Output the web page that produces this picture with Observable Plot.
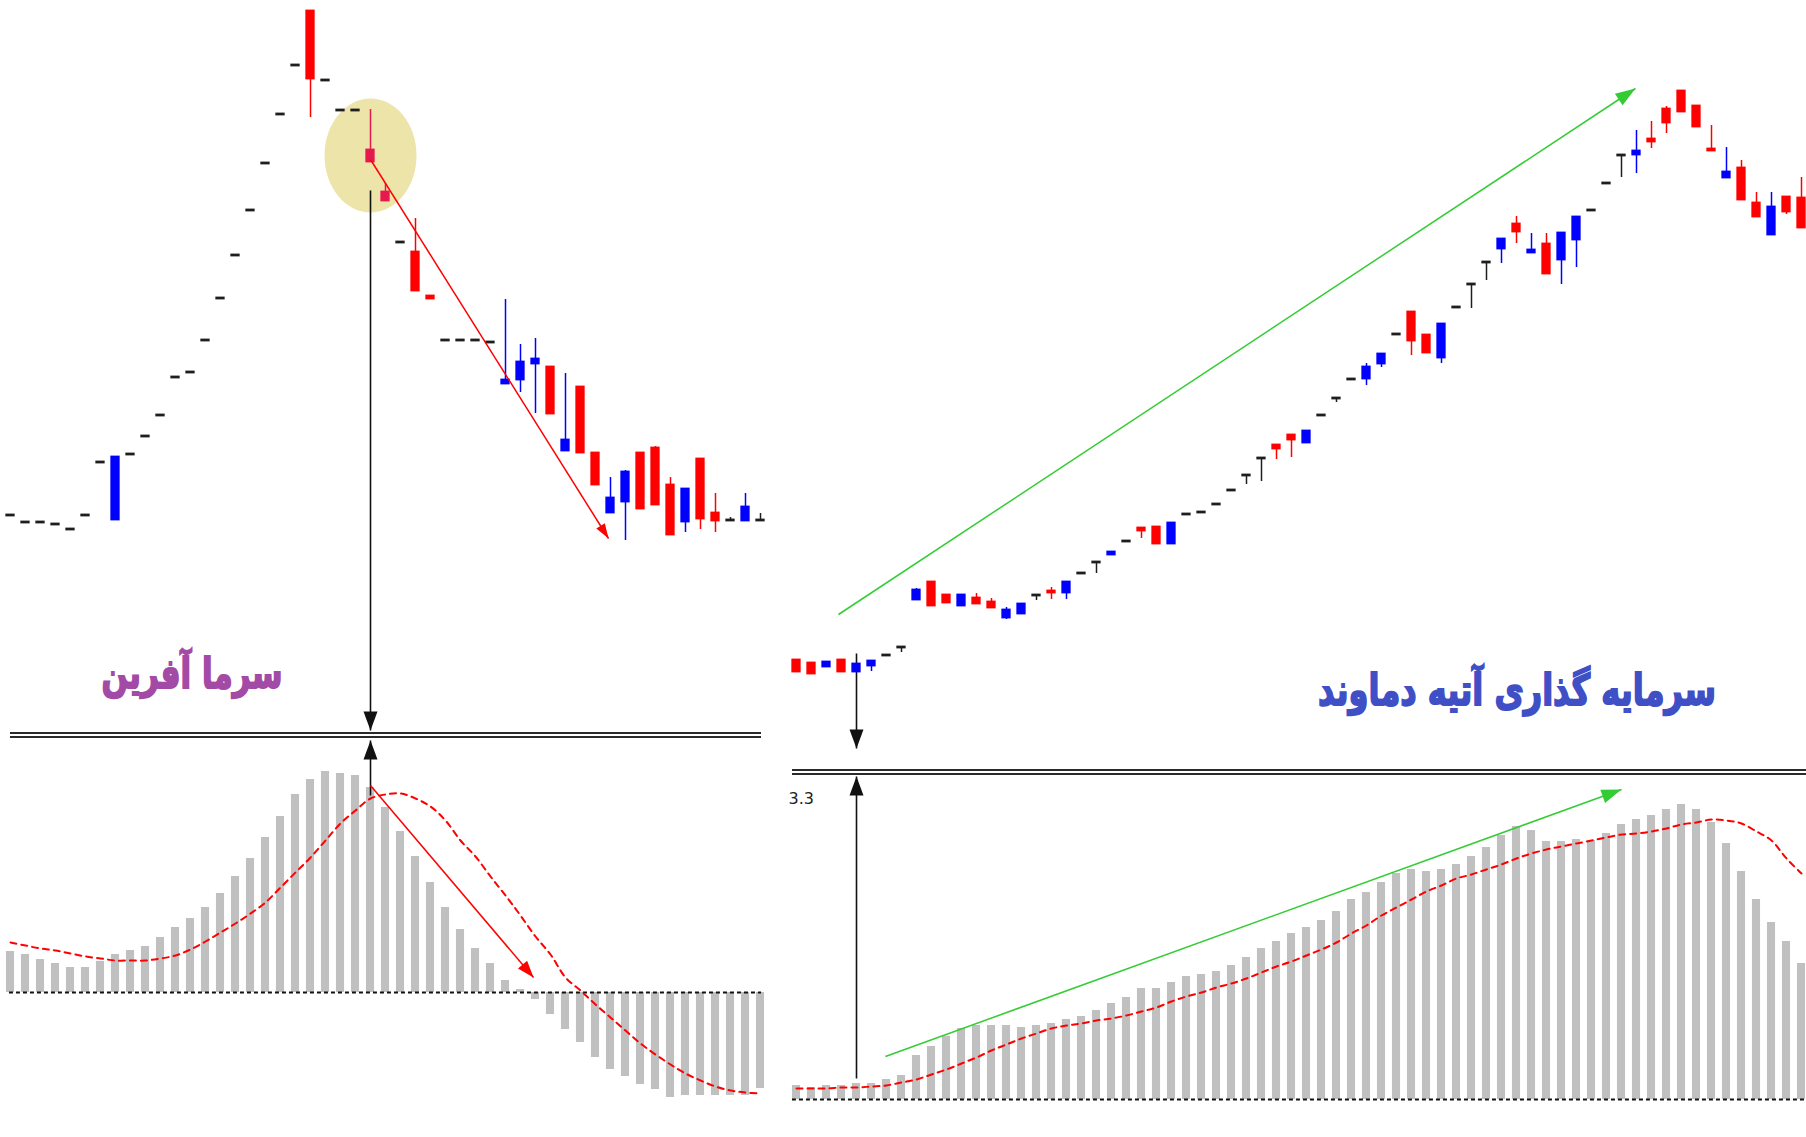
<!DOCTYPE html>
<html><head><meta charset="utf-8">
<script src="https://cdn.jsdelivr.net/npm/d3@7"></script>
<script src="https://cdn.jsdelivr.net/npm/@observablehq/plot@0.6"></script>
<style>
body{margin:0;background:#fff;}
#root{position:relative;width:1806px;height:1137px;overflow:hidden;background:#fff;font-family:"DejaVu Sans",sans-serif;}
.panel{position:absolute;}
.dbl{position:absolute;height:2px;border-top:2px solid #2a2a2a;border-bottom:2px solid #2a2a2a;}
.title{position:absolute;direction:rtl;font-weight:bold;white-space:nowrap;line-height:1;font-family:"DejaVu Sans",sans-serif;-webkit-text-stroke:1.4px currentColor;}
</style></head><body><div id="root"></div>
<script>
// ---------- Left stock: سرما آفرین (price units arbitrary) ----------
const leftOpen  = [485,478,478,476,471,485,538,481,546,564, 585,623,628,660,702,745,790,837,886,935, 989,920,890,890,850,808,758,748,704,660, 660,660,658,617,621,637,633,550,613,547, 488,499,547,552,515,479,541,487,480,480, 480];
const leftHigh  = [485,478,478,476,471,485,538,543,546,564, 585,623,628,660,702,745,790,837,886,935, 989,920,890,890,891,817,758,782,704,660, 660,660,658,701,656,662,633,627,613,547, 523,530,547,554,523,511,541,507,483,507, 487];
const leftLow   = [485,478,478,476,471,485,538,481,546,564, 585,623,628,660,702,745,790,837,886,935, 883,920,890,890,839,800,758,710,702,660, 660,660,658,617,608,587,587,550,548,516, 488,460,492,496,466,468,471,468,480,480, 480];
const leftClose = [485,478,478,476,471,485,538,543,546,564, 585,623,628,660,702,745,790,837,886,935, 922,920,890,890,839,800,758,710,702,660, 660,660,658,620,638,641,587,560,548,516, 502,528,492,496,466,511,482,480,480,493, 480];
const leftHist  = [0.41,0.38,0.33,0.29,0.25,0.25,0.31,0.38,0.42,0.46, 0.55,0.65,0.74,0.85,0.99,1.16,1.34,1.55,1.76,1.98, 2.13,2.21,2.19,2.17,2.05,1.85,1.61,1.36,1.10,0.85, 0.63,0.44,0.29,0.12,0.03,-0.07,-0.22,-0.37,-0.50,-0.65, -0.77,-0.84,-0.92,-0.97,-1.05,-1.03,-1.03,-1.03,-1.03,-1.03, -0.96];
const leftSignal= [0.50,0.47,0.44,0.42,0.39,0.36,0.34,0.32,0.32,0.32, 0.34,0.37,0.43,0.51,0.60,0.69,0.79,0.90,1.05,1.20, 1.35,1.52,1.69,1.82,1.94,1.98,1.99,1.94,1.86,1.72, 1.52,1.36,1.16,0.97,0.77,0.56,0.38,0.15,0.02,-0.12, -0.25,-0.38,-0.51,-0.62,-0.72,-0.81,-0.88,-0.94,-0.98,-1.00, -1.01];
const leftHighlighted = [24, 25];
const leftTitle = "سرما آفرین";

// ---------- Right stock: سرمایه گذاری آتیه دماوند ----------
const rightOpen  = [340,337,334,340,329,335,345,353,401,418, 405,395,402,398,383,387,405,409,408,427, 438,446,459,472,473,457,486,488,496,510, 525,542,555,565,558,585,602,621,622,637, 666,688,665,643,693,716,738,752,776,748, 756,741,761,790,817,845,846,861,891,909, 894,851,823,832,797,766,803,802];
const rightHigh  = [340,338,339,340,336,339,345,353,412,418, 405,405,407,402,393,396,405,413,418,427, 438,448,459,472,473,477,486,488,496,510, 525,542,555,565,569,585,602,621,637,646, 666,688,665,676,693,716,738,761,784,767, 767,767,783,790,817,845,870,879,894,909, 894,875,853,840,808,808,804,823];
const rightLow   = [329,327,333,329,329,329,345,348,401,395, 398,395,397,393,381,387,400,401,401,427, 427,446,459,462,457,457,486,488,496,510, 516,519,541,543,558,585,598,621,615,633, 666,645,648,637,693,692,720,737,757,748, 727,716,733,790,817,823,827,852,867,889, 874,850,823,801,784,766,786,773];
const rightClose = [329,327,338,329,336,339,345,353,410,395, 398,405,397,393,390,396,405,408,418,427, 438,448,459,470,457,477,486,488,496,510, 525,542,552,561,569,585,602,621,633,646, 666,660,648,676,693,716,738,761,769,750, 727,767,783,790,817,845,849,859,878,889, 874,850,828,801,784,793,789,773];
const rightHist  = [0.14,0.12,0.14,0.14,0.16,0.16,0.20,0.24,0.44,0.53, 0.63,0.71,0.74,0.74,0.74,0.72,0.74,0.76,0.80,0.83, 0.89,0.96,1.02,1.11,1.11,1.17,1.23,1.25,1.28,1.34, 1.42,1.51,1.58,1.66,1.72,1.79,1.88,2.00,2.07,2.17, 2.26,2.30,2.28,2.30,2.35,2.43,2.52,2.64,2.73,2.69, 2.58,2.58,2.60,2.59,2.66,2.75,2.80,2.84,2.90,2.95, 2.90,2.77,2.56,2.28,2.00,1.77,1.58,1.36];
const rightSignal= [0.11,0.11,0.11,0.12,0.12,0.13,0.14,0.17,0.20,0.25, 0.30,0.36,0.42,0.49,0.55,0.61,0.66,0.71,0.74,0.76, 0.79,0.81,0.84,0.88,0.92,0.98,1.03,1.07,1.12,1.16, 1.21,1.27,1.33,1.38,1.44,1.50,1.57,1.66,1.74,1.84, 1.92,2.00,2.08,2.14,2.21,2.25,2.30,2.35,2.41,2.46, 2.50,2.53,2.56,2.59,2.62,2.65,2.66,2.68,2.71,2.75, 2.77,2.80,2.79,2.76,2.68,2.59,2.41,2.26];
const rightTitle = "سرمایه گذاری آتیه دماوند";
const rightMacdTopLabel = ["3.3"];

// ---------- annotations (data units: bar index, price / MACD value) ----------
const leftCircle = [{i: 24, p: 845}];
const leftPriceArrow = {x1: 24, y1: 841, x2: 39.87, y2: 462};
const leftDrop = {x: 24, y1: 810, y2: 270};
const leftMacdArrow = {x1: 24, y1: 2.07, x2: 34.87, y2: 0.15};
const leftMacdUp = {x: 24, y1: 1.97, y2: 2.52};
const rightPriceArrow = {x1: 2.8, y1: 386, x2: 55.93, y2: 912};
const rightDrop = {x: 4, y1: 347, y2: 252};
const rightMacdArrow = {x1: 5.93, y1: 0.43, x2: 55, y2: 3.1};
const rightMacdUp = {x: 4, y1: 0.21, y2: 3.23};

// ---------- helpers ----------
const BLUE = "#0000ff", RED = "#ff0000", DOJI = "#1e1e1e", PINK = "#e6194f", GREY = "#c0c0c0";
const ellipse = (rx, ry) => ({draw(ctx) {
  const k = 0.5523;
  ctx.moveTo(rx, 0);
  ctx.bezierCurveTo(rx, ry * k, rx * k, ry, 0, ry);
  ctx.bezierCurveTo(-rx * k, ry, -rx, ry * k, -rx, 0);
  ctx.bezierCurveTo(-rx, -ry * k, -rx * k, -ry, 0, -ry);
  ctx.bezierCurveTo(rx * k, -ry, rx, -ry * k, rx, 0);
  ctx.closePath();
}});
const head = (a, len, hw) => ({draw(ctx) {
  const c = Math.cos(a), s = Math.sin(a);
  const bx = -len * c, by = -len * s, px = -s * hw, py = c * hw;
  ctx.moveTo(0, 0); ctx.lineTo(bx + px, by + py); ctx.lineTo(bx - px, by - py); ctx.closePath();
}});
function arrowMarks(a, xd, xr, yd, yr, color, len, hw, sw) {
  const xs = d3.scaleLinear(xd, xr), ys = d3.scaleLinear(yd, yr);
  const ang = Math.atan2(ys(a.y2) - ys(a.y1), xs(a.x2) - xs(a.x1));
  return [
    Plot.link([a], {x1: "x1", y1: "y1", x2: "x2", y2: "y2", stroke: color, strokeWidth: sw}),
    Plot.dot([a], {x: "x2", y: "y2", symbol: head(ang, len, hw), fill: color, stroke: "none"})
  ];
}
function vArrow(a, xd, xr, yd, yr) {
  return arrowMarks({x1: a.x, y1: a.y1, x2: a.x, y2: a.y2}, xd, xr, yd, yr, "#111", 19, 7, 1.6);
}
function candleMarks(data, highlighted) {
  const col = d => highlighted.includes(d.i) ? PINK : d.c > d.o ? BLUE : d.c < d.o ? RED : DOJI;
  return [
    Plot.ruleX(data, {x: "i", y1: "l", y2: "h", stroke: col, strokeWidth: 1.5}),
    Plot.rect(data, {x1: d => d.i - 0.31, x2: d => d.i + 0.31, y1: "o", y2: "c", fill: col, insetTop: -1.4, insetBottom: -1.4})
  ];
}
function macdMarks(hist, signal, x1, x2) {
  const bars = hist.map((v, i) => ({i, v}));
  const sig = signal.map((v, i) => ({i, v}));
  return [
    Plot.rect(bars, {x1: d => d.i - 0.27, x2: d => d.i + 0.27, y1: 0, y2: "v", fill: GREY}),
    Plot.ruleY([0], {x1, x2, stroke: "#111", strokeWidth: 2.2, strokeDasharray: "4,3"}),
    Plot.line(sig, {x: "i", y: "v", stroke: RED, strokeWidth: 2, strokeDasharray: "6,5", curve: "catmull-rom"})
  ];
}
const root = document.getElementById("root");
function place(node, left, top) {
  node.classList.add("panel");
  node.style.left = left + "px"; node.style.top = top + "px";
  root.appendChild(node);
}
const baseStyle = {background: "transparent", overflow: "visible", fontFamily: "DejaVu Sans"};

// ---------- Left candle panel ----------
const leftCandles = d3.range(leftOpen.length).map(i => ({i, o: leftOpen[i], h: leftHigh[i], l: leftLow[i], c: leftClose[i]}));
{
  const xd = [0, 50], xr = [10, 760], yd = [269, 1000], yr = [731, 0];
  const p = Plot.plot({
    width: 766, height: 731, margin: 0, style: baseStyle,
    x: {domain: xd, range: xr, axis: null}, y: {domain: yd, range: yr, axis: null},
    marks: [
      Plot.dot(leftCircle, {x: "i", y: "p", symbol: ellipse(46, 57), fill: "#ece4a9", stroke: "none"}),
      ...vArrow(leftDrop, xd, xr, yd, yr),
      ...candleMarks(leftCandles, leftHighlighted),
      ...arrowMarks(leftPriceArrow, xd, xr, yd, yr, RED, 15, 5, 1.5)
    ]
  });
  place(p, 0, 0);
}
// ---------- Left MACD panel ----------
{
  const xd = [0, 50], xr = [10, 760], yd = [-1.45, 2.54], yr = [399, 0];
  const p = Plot.plot({
    width: 766, height: 399, margin: 0, style: baseStyle,
    x: {domain: xd, range: xr, axis: null}, y: {domain: yd, range: yr, axis: null},
    marks: [
      ...macdMarks(leftHist, leftSignal, -0.07, 50.07),
      ...vArrow(leftMacdUp, xd, xr, yd, yr),
      ...arrowMarks(leftMacdArrow, xd, xr, yd, yr, RED, 17, 6, 1.5)
    ]
  });
  place(p, 0, 738);
}
// ---------- Right candle panel ----------
const rightCandles = d3.range(rightOpen.length).map(i => ({i, o: rightOpen[i], h: rightHigh[i], l: rightLow[i], c: rightClose[i]}));
{
  const xd = [0, 67], xr = [16, 1021], yd = [232, 1000], yr = [768, 0];
  const p = Plot.plot({
    width: 1026, height: 768, margin: 0, style: baseStyle,
    x: {domain: xd, range: xr, axis: null}, y: {domain: yd, range: yr, axis: null},
    marks: [
      ...arrowMarks(rightPriceArrow, xd, xr, yd, yr, "#33cc33", 20, 7, 1.5),
      ...vArrow(rightDrop, xd, xr, yd, yr),
      ...candleMarks(rightCandles, [])
    ]
  });
  place(p, 780, 0);
}
// ---------- Right MACD panel ----------
{
  const xd = [0, 67], xr = [16, 1021], yd = [-0.38, 3.24], yr = [362, 0];
  const p = Plot.plot({
    width: 1026, height: 362, margin: 0, style: baseStyle,
    x: {domain: xd, range: xr, axis: null}, y: {domain: yd, range: yr, axis: null},
    marks: [
      ...macdMarks(rightHist, rightSignal, -0.27, 68),
      ...vArrow(rightMacdUp, xd, xr, yd, yr),
      ...arrowMarks(rightMacdArrow, xd, xr, yd, yr, "#33cc33", 20, 7, 1.5),
      Plot.text(rightMacdTopLabel, {frameAnchor: "top-left", dx: 8, dy: 17, fill: "#222", fontSize: 16, textAnchor: "start"})
    ]
  });
  place(p, 780, 775);
}
// ---------- separators & titles ----------
function sep(left, top, width) {
  const d = document.createElement("div"); d.className = "dbl";
  d.style.left = left + "px"; d.style.top = top + "px"; d.style.width = width + "px";
  root.appendChild(d);
}
sep(10, 732, 751);
sep(792, 769, 1014);
function title(text, cx, top, size, color) {
  const d = document.createElement("div"); d.className = "title"; d.textContent = text;
  d.style.left = cx + "px"; d.style.top = top + "px"; d.style.fontSize = size + "px"; d.style.color = color;
  d.style.transform = "translateX(-50%) scale(1, 1.35)";
  root.appendChild(d);
}
title(leftTitle, 192, 658, 31, "#a24aa6");
title(rightTitle, 1517, 674, 32, "#3f4fc6");
</script></body></html>
